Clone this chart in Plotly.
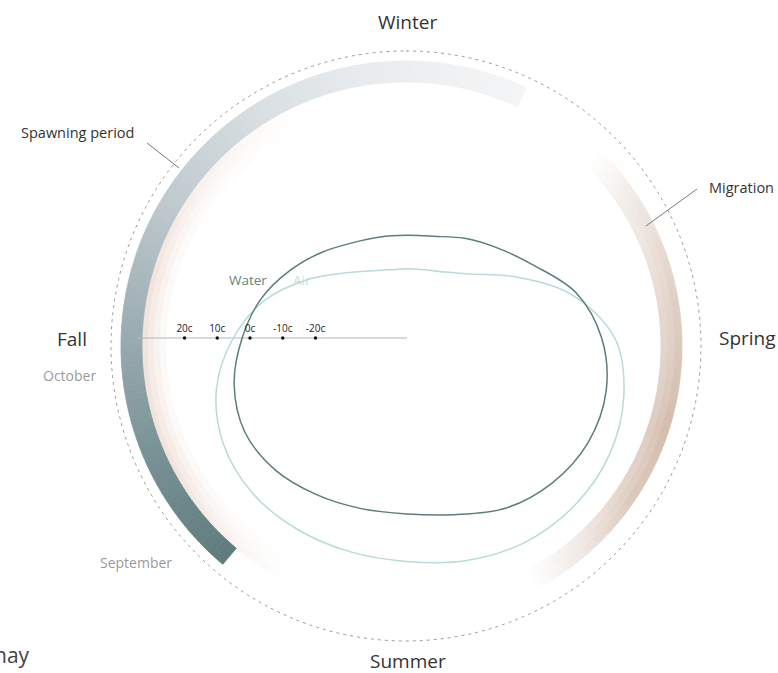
import numpy as np
import plotly.graph_objects as go

W, H = 778, 673

# Seasonal angle in degrees, clockwise from the top (mid-winter at 0)
angle_deg = list(range(0, 360, 15))
water_temp_c = [-16.6, -15.8, -12.8, -9.0, -3.4, 5.5, 11.5, 15.0, 15.9, 14.7, 12.1, 7.9,
                5.8, 6.0, 7.3, 9.0, 9.3, 6.7, 2.4, -1.8, -6.7, -11.0, -14.4, -16.0]
air_temp_c = [-26.8, -26.4, -24.7, -20.3, -10.4, 3.8, 15.5, 20.6, 23.4, 24.4, 24.1, 22.4,
              20.3, 19.6, 19.4, 18.9, 16.8, 12.3, 5.1, -3.1, -12.5, -20.0, -24.3, -26.4]

scale_temps_c = [20, 10, 0, -10, -20]
scale_labels = ["20c", "10c", "0c", "-10c", "-20c"]

# Periods on the seasonal ring (degrees clockwise from the top)
spawning_deg = [220, 385]
migration_deg = [45, 152]

season_names = ["Winter", "Spring", "Summer", "Fall"]
month_names = ["October", "September"]
period_names = ["Spawning period", "Migration"]
series_names = ["Water", "Air"]

FONT = "Open Sans"

# ---- geometry of the two polar panels (pixels) ----
RING_C, RING_R = (406, 346), 300          # seasonal ring, radial unit = 1 px
TEMP_C, TEMP_R = (407, 338), 280          # temperature panel
PX_PER_C, ZERO_PX = 3.275, 157.0          # temperature scale on the radius


def domain(c, R):
    cx, cy = c
    return dict(x=[(cx - R) / W, (cx + R) / W], y=[(H - cy - R) / H, (H - cy + R) / H])


def lerp_rgb(stops, t):
    xs = [s[0] for s in stops]
    return [np.interp(t, xs, [s[1][k] for s in stops]) for k in range(3)]


def to_css(rgb):
    return "rgb(%d,%d,%d)" % tuple(int(round(v)) for v in rgb)


def blend_white(rgb, a):
    return [255 + (c - 255) * a for c in rgb]


fig = go.Figure()


def ring_band(thetas, base, thick, colors):
    fig.add_trace(go.Barpolar(
        theta=thetas, r=[thick] * len(thetas), base=[base] * len(thetas),
        width=[1.0] * len(thetas),
        marker=dict(color=colors, line=dict(color=colors, width=0.8)),
        subplot="polar", hoverinfo="skip", showlegend=False))


# soft beige glow inside the spawning band
glow_theta = np.arange(208, 336, 1.0) + 0.5
glow_strength = np.interp(glow_theta, [208, 240, 285, 335], [0, 1, 1, 0])
glow_rgb = (236, 218, 208)
for base, fall in [(258, 1.0), (252, 0.72), (246, 0.45), (240, 0.2)]:
    cols = [to_css(blend_white(glow_rgb, 0.72 * g * fall)) for g in glow_strength]
    ring_band(list(glow_theta), base, 6, cols)

# spawning period band, dark at its start fading to pale grey
sp_theta = np.arange(spawning_deg[0], spawning_deg[1], 1.0) + 0.5
sp_stops = [(220, (94, 124, 126)), (245, (118, 143, 147)), (270, (150, 169, 175)),
            (300, (190, 200, 205)), (330, (218, 224, 227)), (350, (232, 235, 238)),
            (365, (238, 240, 242)), (385, (244, 245, 247))]
sp_cols = [to_css(lerp_rgb(sp_stops, t)) for t in sp_theta]
ring_band(list(sp_theta % 360), 264, 21, sp_cols)

# migration band, beige fading out at both ends
mg_theta = np.arange(migration_deg[0], migration_deg[1], 1.0) + 0.5
mg_strength = np.interp(mg_theta, [45, 58, 80, 108, 125, 140, 152],
                        [0, 0.35, 0.72, 1.0, 0.8, 0.35, 0])
mg_rgb = (212, 189, 174)
for base, shade in [(255, 0.78), (262, 0.88), (269, 1.0)]:
    cols = [to_css(blend_white(mg_rgb, s * shade)) for s in mg_strength]
    ring_band(list(mg_theta), base, 7, cols)

# dotted outline of the seasonal ring
circle_theta = np.linspace(0, 360, 721)
fig.add_trace(go.Scatterpolar(
    theta=circle_theta, r=[295] * len(circle_theta), mode="lines",
    line=dict(color="#9a9a9a", width=1, dash="3px,4px"),
    subplot="polar", hoverinfo="skip", showlegend=False))

# ---- temperature panel ----
t_lo = -ZERO_PX / PX_PER_C
t_hi = (TEMP_R - ZERO_PX) / PX_PER_C
axis_end = (270 - ZERO_PX) / PX_PER_C

fig.add_trace(go.Scatterpolar(
    theta=[270, 270], r=[t_lo, axis_end], mode="lines",
    line=dict(color="#b4b4b4", width=1),
    subplot="polar2", hoverinfo="skip", showlegend=False))

for temps, color in [(air_temp_c, "#b7dada"), (water_temp_c, "#5a7e7d")]:
    fig.add_trace(go.Scatterpolar(
        theta=angle_deg + angle_deg[:1], r=temps + temps[:1], mode="lines",
        line=dict(color=color, width=1.5, shape="spline", smoothing=1.0),
        subplot="polar2", hoverinfo="skip", showlegend=False))

fig.add_trace(go.Scatterpolar(
    theta=[270] * len(scale_temps_c), r=scale_temps_c, mode="markers+text",
    marker=dict(color="#111111", size=3.5),
    text=scale_labels, textposition="top center",
    textfont=dict(family=FONT, size=10, color="#222222"),
    subplot="polar2", hoverinfo="skip", showlegend=False, cliponaxis=False))

hidden_angular = dict(direction="clockwise", rotation=90, showgrid=False, showline=False,
                      showticklabels=False, ticks="")
fig.update_layout(
    width=W, height=H, autosize=False,
    margin=dict(l=0, r=0, t=0, b=0),
    paper_bgcolor="white", plot_bgcolor="white",
    showlegend=False,
    polar=dict(domain=domain(RING_C, RING_R), bgcolor="rgba(0,0,0,0)",
               barmode="overlay", bargap=0,
               radialaxis=dict(visible=False, range=[0, RING_R]),
               angularaxis=hidden_angular),
    polar2=dict(domain=domain(TEMP_C, TEMP_R), bgcolor="rgba(0,0,0,0)",
                radialaxis=dict(visible=False, range=[t_lo, t_hi]),
                angularaxis=hidden_angular),
)


def label(text, x, y, size, color, anchor="center"):
    fig.add_annotation(text=text, x=x / W, y=1 - y / H, xref="paper", yref="paper",
                       showarrow=False, xanchor=anchor, yanchor="middle",
                       font=dict(family=FONT, size=size, color=color))


season_pos = [(407, 22), (747, 338), (408, 661), (72, 339)]
for name, (x, y) in zip(season_names, season_pos):
    label(name, x, y, 19, "#333333")

month_pos = [(69, 375), (136, 562)]
for name, (x, y) in zip(month_names, month_pos):
    label(name, x, y, 14, "#9a9a9a")

label(period_names[0], 77, 133, 14.5, "#333333")
label(period_names[1], 741, 187, 14.5, "#333333")
label(series_names[0], 248, 280, 13.5, "#62837f")
label(series_names[1], 302, 280, 13.5, "#c3dfdf")
label("nay", 32, 655, 21, "#444444", anchor="right")

# leader lines for the period labels
for (x0, y0, x1, y1) in [(147, 143, 179, 168), (697, 189, 646, 226)]:
    fig.add_shape(type="line", xref="paper", yref="paper",
                  x0=x0 / W, y0=1 - y0 / H, x1=x1 / W, y1=1 - y1 / H,
                  line=dict(color="#7a7a7a", width=1))

fig.write_html("out.html")
